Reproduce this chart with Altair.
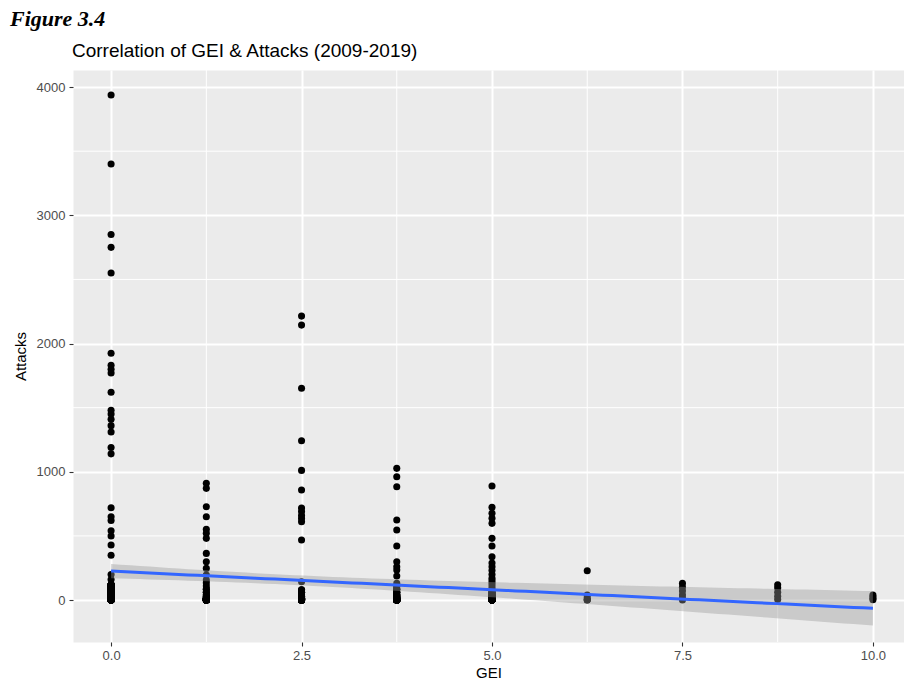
import numpy as np
import pandas as pd
import altair as alt

# ---------------- data ----------------
gei_levels = [0.0, 1.25, 2.5, 3.75, 5.0, 6.25, 7.5, 8.75, 10.0]

# clearly separated attack counts at each GEI level
att_0 = [3938, 3400, 2850, 2750, 2550, 1925, 1830, 1800, 1770, 1620, 1480, 1450,
         1410, 1360, 1310, 1190, 1140, 720, 650, 620, 540, 500, 430, 350, 200, 160]
att_125 = [910, 871, 728, 650, 551, 520, 481, 364, 299, 247, 195]
att_250 = [2214, 2144, 1651, 1242, 1011, 858, 717, 690, 660, 635, 610, 468, 143]
att_375 = [1027, 962, 884, 624, 546, 421, 299, 260, 234, 187]
att_500 = [889, 723, 676, 637, 598, 481, 421, 338, 289, 260, 230, 200, 170, 150, 130, 110, 90]
att_625 = [229, 40, 20, 5, 0, 0]
att_750 = [130, 100, 70, 40, 15, 0]
att_875 = [120, 95, 60, 30, 5]
att_1000 = [40, 25, 12, 3]

# crowded clusters near zero: attack value and number of country-years with it
low_vals_0 = [0, 5, 10, 20, 30, 45, 60, 80, 100, 120]
low_cnt_0 = [30, 20, 18, 16, 14, 12, 12, 10, 10, 8]
low_vals_125 = [0, 3, 8, 15, 25, 40, 60, 85, 110, 135, 156]
low_cnt_125 = [20, 8, 6, 4, 3, 2, 2, 2, 1, 1, 1]
low_vals_250 = [0, 3, 8, 15, 25, 40, 60, 80]
low_cnt_250 = [22, 8, 6, 5, 4, 3, 3, 2]
low_vals_375 = [0, 3, 8, 15, 25, 40, 60, 85, 110, 130]
low_cnt_375 = [28, 10, 8, 6, 5, 4, 3, 3, 2, 1]
low_vals_500 = [0, 3, 8, 15, 25, 40, 60]
low_cnt_500 = [35, 12, 10, 8, 6, 5, 4]

x_major = [0, 2.5, 5, 7.5, 10]
x_minor = [1.25, 3.75, 6.25, 8.75]
y_major = [0, 1000, 2000, 3000, 4000]
y_minor = [500, 1500, 2500, 3500]

fig_text = "Figure 3.4"
title_text = "Correlation of GEI & Attacks (2009-2019)"

# ---------------- build the observation table ----------------
visible = [att_0, att_125, att_250, att_375, att_500, att_625, att_750, att_875, att_1000]
lows = [(low_vals_0, low_cnt_0), (low_vals_125, low_cnt_125), (low_vals_250, low_cnt_250),
        (low_vals_375, low_cnt_375), (low_vals_500, low_cnt_500)]

gx, gy = [], []
for lvl, vals in zip(gei_levels, visible):
    gx += [lvl] * len(vals)
    gy += list(vals)
for lvl, (vals, cnts) in zip(gei_levels, lows):
    rep = np.repeat(vals, cnts)
    gx += [lvl] * len(rep)
    gy += list(rep)

pts = pd.DataFrame({"gei": gx, "attacks": gy})

# ---------------- linear fit with 95% confidence band (like geom_smooth(method="lm")) ----------------
xa = pts["gei"].to_numpy(float)
ya = pts["attacks"].to_numpy(float)
n = len(xa)
slope, intercept = np.polyfit(xa, ya, 1)
resid = ya - (intercept + slope * xa)
sigma = np.sqrt(np.sum(resid ** 2) / (n - 2))
xbar = xa.mean()
sxx = np.sum((xa - xbar) ** 2)
xs = np.linspace(xa.min(), xa.max(), 80)
fit = intercept + slope * xs
se = sigma * np.sqrt(1.0 / n + (xs - xbar) ** 2 / sxx)
tq = 1.965
band = pd.DataFrame({"gei": xs, "fit": fit, "lo": fit - tq * se, "hi": fit + tq * se})

# ---------------- chart ----------------
FONT = "Liberation Sans"
xscale = alt.Scale(domain=[-0.5, 10.408], nice=False, zero=False)
yscale = alt.Scale(domain=[-327, 4133], nice=False, zero=False)

x_axis = alt.Axis(values=x_major, format=".1f", title="GEI", grid=True, gridColor="white",
                  gridWidth=2, domain=False, tickColor="#333333", tickSize=4, tickWidth=1.1,
                  labelColor="#4D4D4D", labelFont=FONT, labelFontSize=13, labelPadding=3,
                  titleFont=FONT, titleFontSize=15, titleFontWeight="normal", titleColor="black",
                  titlePadding=3)
y_axis = alt.Axis(values=y_major, format="d", title="Attacks", grid=True, gridColor="white",
                  gridWidth=2, domain=False, tickColor="#333333", tickSize=4, tickWidth=1.1,
                  labelColor="#4D4D4D", labelFont=FONT, labelFontSize=13, labelPadding=4,
                  titleFont=FONT, titleFontSize=15, titleFontWeight="normal", titleColor="black",
                  titlePadding=8)

X = lambda f: alt.X(f, scale=xscale, axis=x_axis)
Y = lambda f: alt.Y(f, scale=yscale, axis=y_axis)

xminor = alt.Chart(pd.DataFrame({"gei": x_minor})).mark_rule(color="white", strokeWidth=1).encode(
    x=X("gei:Q"))
yminor = alt.Chart(pd.DataFrame({"attacks": y_minor})).mark_rule(color="white", strokeWidth=1).encode(
    y=Y("attacks:Q"))

points = alt.Chart(pts).mark_circle(size=50, color="black", opacity=1).encode(
    x=X("gei:Q"), y=Y("attacks:Q"))

ribbon = alt.Chart(band).mark_area(color="#999999", opacity=0.4).encode(
    x=X("gei:Q"), y=Y("lo:Q"), y2="hi:Q")

line = alt.Chart(band).mark_line(color="#3366FF", strokeWidth=3).encode(
    x=X("gei:Q"), y=Y("fit:Q"))

fig_label = alt.Chart(pd.DataFrame({"t": [fig_text]})).mark_text(
    align="left", baseline="alphabetic", font="Liberation Serif", fontSize=22,
    fontStyle="italic", fontWeight="bold", color="black").encode(
    text="t:N", x=alt.value(-63), y=alt.value(-44))

title_label = alt.Chart(pd.DataFrame({"t": [title_text]})).mark_text(
    align="left", baseline="alphabetic", font=FONT, fontSize=19,
    fontWeight="normal", color="black").encode(
    text="t:N", x=alt.value(-1), y=alt.value(-13))

chart = alt.layer(xminor, yminor, points, ribbon, line, fig_label, title_label).properties(
    width=831, height=572,
    autosize=alt.AutoSizeParams(type="none"),
    padding={"left": 73, "top": 70, "right": 0, "bottom": 46},
    background="white",
).configure_view(fill="#EBEBEB", stroke="transparent")

chart.save("out.html", embed_options={"renderer": "svg", "actions": False})
